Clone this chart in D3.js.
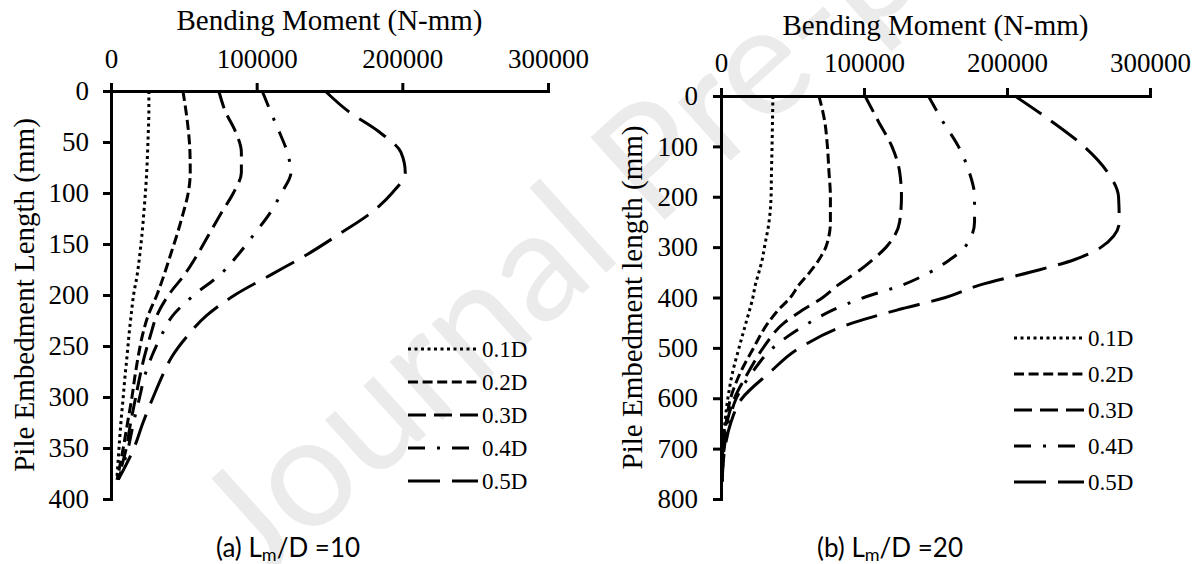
<!DOCTYPE html>
<html>
<head>
<meta charset="utf-8">
<script src="https://cdn.jsdelivr.net/npm/d3@7"></script>
<style>
  html, body { margin: 0; padding: 0; background: #fff; }
  svg { display: block; }
</style>
</head>
<body>
<svg id="chart" width="1202" height="564"></svg>
<script>
// Bending moment (N-mm) along pile depth (mm), for five offsets 0.1D–0.5D.
const seriesNames = ["0.1D", "0.2D", "0.3D", "0.4D", "0.5D"];
const momentTicks = [0, 100000, 200000, 300000];

// Panel (a): Lm/D = 10
const depthA = [0, 20, 40, 60, 80, 100, 120, 140, 160, 180, 200, 220, 240, 260, 280, 300, 325, 350, 381];
const a01 = [26000, 26000, 25600, 25100, 24500, 23600, 22500, 21300, 19800, 18000, 15500, 13800, 12300, 11000, 9600, 8400, 6800, 5500, 4000];
const a02 = [49400, 51500, 53200, 54200, 54400, 53000, 49500, 45500, 41000, 36500, 31500, 25500, 21500, 18700, 16400, 14400, 11400, 8400, 4200];
const a03 = [74000, 78500, 85500, 89500, 89500, 84000, 75500, 67500, 59500, 50500, 39500, 31500, 27000, 23000, 19800, 17000, 13500, 10500, 4600];
const a04 = [103800, 109500, 115500, 121000, 123500, 117000, 109000, 98500, 87500, 75000, 57000, 42500, 34500, 28000, 23000, 19700, 15500, 11800, 5000];
const a05 = [147000, 163000, 184000, 199000, 202000, 193000, 178000, 157000, 135000, 110000, 85000, 65700, 52500, 42000, 35000, 29000, 22000, 15800, 5000];
const depthTicksA = [0, 50, 100, 150, 200, 250, 300, 350, 400];

// Panel (b): Lm/D = 20
const depthB = [0, 50, 100, 150, 200, 250, 300, 325, 350, 375, 400, 425, 450, 500, 550, 600, 650, 700, 765];
const b01 = [36300, 36000, 35700, 35300, 35000, 33600, 30400, 28800, 26500, 24000, 22300, 20000, 17500, 12600, 8000, 4800, 2700, 1300, 800];
const b02 = [68500, 72500, 74400, 75500, 76500, 76500, 73300, 68500, 62000, 54500, 48500, 40000, 33000, 22800, 13400, 6700, 3500, 1300, 800];
const b03 = [100700, 110000, 119500, 124900, 126200, 124900, 115500, 106000, 95000, 82000, 71200, 57000, 44300, 29500, 18800, 9400, 4000, 1900, 800];
const b04 = [145000, 155000, 166000, 173500, 177300, 177300, 170600, 160000, 146000, 127000, 100000, 78000, 61800, 36300, 21500, 10700, 5400, 2200, 800];
const b05 = [205500, 231000, 253800, 270000, 278000, 278500, 265900, 247000, 216000, 181300, 157000, 123000, 92700, 55000, 33600, 14800, 6700, 2700, 800];
const depthTicksB = [0, 100, 200, 300, 400, 500, 600, 700, 800];

// Line dash patterns per series
const dashes = ["3,3.5", "10,4.6", "18,8", "17,12,3,12", "32,12"];

const SERIF = "Liberation Serif";
const SANS = "Lato";

const svg = d3.select("#chart");

// faint diagonal watermark behind the plots
svg.append("text")
  .attr("transform", "translate(258,586) rotate(-42)")
  .attr("font-family", SANS)
  .attr("font-size", 155)
  .attr("fill", "#ebebeb")
  .text("Journal Pre-proof");

function panel(cfg) {
  const x = d3.scaleLinear().domain([0, 300000]).range([cfg.x0, cfg.x1]);
  const y = d3.scaleLinear().domain([0, cfg.ymax]).range([cfg.y0, cfg.y1]);
  const g = svg.append("g");

  const xAxis = g.append("g")
    .attr("transform", `translate(0,${cfg.y0})`)
    .call(d3.axisTop(x).tickValues(momentTicks).tickFormat(d3.format("d")).tickSize(8).tickPadding(cfg.xPad));
  const yAxis = g.append("g")
    .attr("transform", `translate(${cfg.x0},0)`)
    .call(d3.axisLeft(y).tickValues(cfg.ticks).tickFormat(d3.format("d")).tickSize(8).tickPadding(cfg.yPad));

  [xAxis, yAxis].forEach(ax => {
    ax.attr("font-family", null).attr("font-size", null);
    ax.selectAll("path, line").attr("stroke", "#000").attr("stroke-width", 3);
    ax.selectAll("text")
      .attr("fill", "#000")
      .attr("font-family", SERIF)
      .attr("font-size", 27);
  });

  // axis titles
  g.append("text")
    .attr("font-family", SERIF)
    .attr("x", (cfg.x0 + cfg.x1) / 2).attr("y", cfg.titleY)
    .attr("text-anchor", "middle").attr("font-size", 29)
    .text("Bending Moment (N-mm)");
  g.append("text")
    .attr("font-family", SERIF)
    .attr("transform", `translate(${cfg.ylabX},${(cfg.y0 + cfg.y1) / 2}) rotate(-90)`)
    .attr("text-anchor", "middle").attr("dy", "0.35em").attr("font-size", 29)
    .text(cfg.ylabel);

  const line = d3.line()
    .x(d => x(d[1]))
    .y(d => y(d[0]))
    .curve(d3.curveMonotoneY);

  cfg.series.forEach((vals, i) => {
    g.append("path")
      .datum(cfg.depth.map((dp, k) => [dp, vals[k]]))
      .attr("d", line)
      .attr("fill", "none")
      .attr("stroke", "#000")
      .attr("stroke-width", 3)
      .attr("stroke-dasharray", dashes[i]);
  });

  // legend
  seriesNames.forEach((name, i) => {
    const ly = cfg.legY[i];
    g.append("line")
      .attr("x1", cfg.legX).attr("x2", cfg.legX + 70)
      .attr("y1", ly).attr("y2", ly)
      .attr("stroke", "#000").attr("stroke-width", 3)
      .attr("stroke-dasharray", dashes[i]);
    g.append("text")
      .attr("font-family", SERIF)
      .attr("x", cfg.legX + 74).attr("y", ly).attr("dy", "0.35em")
      .attr("font-size", 23)
      .text(name);
  });

  // caption
  const cap = g.append("text")
    .attr("x", cfg.capX).attr("y", 557)
    .attr("text-anchor", "middle")
    .attr("font-family", SANS)
    .attr("font-size", 26);
  cap.append("tspan").text(cfg.capPre + "L");
  cap.append("tspan").attr("font-size", 18).attr("dy", 4).text("m");
  cap.append("tspan").attr("dy", -4).text("/D =" + cfg.capVal);
}

panel({
  x0: 111, x1: 548, y0: 91, y1: 499, ymax: 400, ticks: depthTicksA,
  depth: depthA, series: [a01, a02, a03, a04, a05],
  xPad: 15, yPad: 14,
  titleY: 30, ylabX: 24, ylabel: "Pile Embedment Length (mm)",
  legX: 408, legY: [349, 382, 415, 448, 481],
  capX: 288, capPre: "(a) ", capVal: "10"
});

panel({
  x0: 721, x1: 1150, y0: 96, y1: 499, ymax: 800, ticks: depthTicksB,
  depth: depthB, series: [b01, b02, b03, b04, b05],
  xPad: 16, yPad: 15,
  titleY: 35, ylabX: 632, ylabel: "Pile Embedment length (mm)",
  legX: 1014, legY: [338, 374, 410, 446, 482],
  capX: 890, capPre: "(b) ", capVal: "20"
});
</script>
</body>
</html>
